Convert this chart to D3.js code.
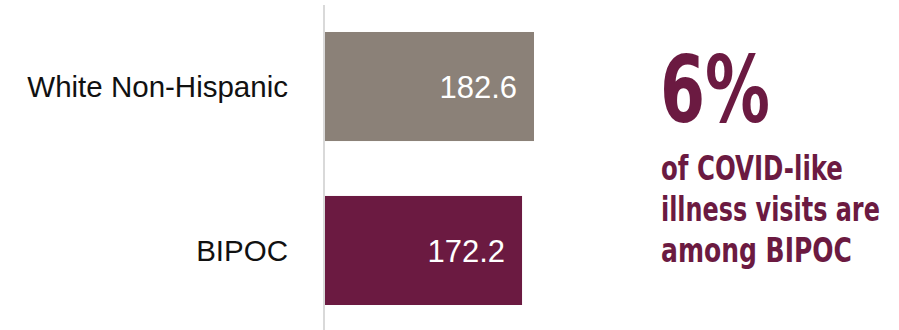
<!DOCTYPE html>
<html>
<head>
<meta charset="utf-8">
<script src="https://cdn.jsdelivr.net/npm/d3@7"></script>
<style>
  html, body { margin: 0; padding: 0; background: #fff; }
  svg { display: block; }
</style>
</head>
<body>
<svg id="chart" width="899" height="330"></svg>
<script>
// Rate per group
const categories = ["White Non-Hispanic", "BIPOC"];
const values = [182.6, 172.2];
const barColors = ["#8b8178", "#6b1a41"];
const calloutBig = "6%";
const calloutLines = ["of COVID-like", "illness visits are", "among BIPOC"];

const svg = d3.select("#chart");
const maroon = "#6b1a41";

const x = d3.scaleLinear().domain([0, 200]).range([324, 324 + 200 * (210 / 182.6)]);
const y = d3.scaleBand().domain(categories).range([4.5, 332.5]).paddingInner(0.335).paddingOuter(0.1677);

// Bars
svg.selectAll("rect.bar")
  .data(values)
  .join("rect")
  .attr("class", "bar")
  .attr("x", x(0))
  .attr("y", (d, i) => y(categories[i]))
  .attr("width", d => x(d) - x(0))
  .attr("height", y.bandwidth())
  .attr("fill", (d, i) => barColors[i]);

// Category axis (line only, labels drawn to the left)
const axis = d3.axisLeft(y).tickSize(0).tickPadding(36);
const g = svg.append("g").attr("transform", `translate(${x(0)},0)`).call(axis);
g.select(".domain").attr("stroke", "#d9d9d9").attr("stroke-width", 2).attr("d", "M0,5V330");
g.selectAll(".tick text")
  .attr("font-family", "'Liberation Sans', Arial, sans-serif")
  .attr("font-size", 29.5)
  .attr("fill", "#111")
  .attr("dy", "0.36em");

// Value labels inside bars
svg.selectAll("text.val")
  .data(values)
  .join("text")
  .attr("class", "val")
  .attr("x", d => x(d) - 17)
  .attr("y", (d, i) => y(categories[i]) + y.bandwidth() / 2)
  .attr("dy", "0.38em")
  .attr("text-anchor", "end")
  .attr("font-family", "'Liberation Sans', Arial, sans-serif")
  .attr("font-size", 31)
  .attr("fill", "#fff")
  .text(d => d.toFixed(1));

// Callout: condensed bold text, squeezed horizontally to the target width
const cf = "'Liberation Sans Narrow', 'DejaVu Sans Condensed', 'Arial Narrow', sans-serif";
function squeeze(sel, width) {
  sel.each(function (d, i) {
    const w = typeof width === "function" ? width(d, i) : width;
    const natural = this.getComputedTextLength();
    const sx = natural > 0 ? w / natural : 1;
    const tx = +this.getAttribute("data-x"), ty = +this.getAttribute("data-y");
    this.setAttribute("transform", `translate(${tx},${ty}) scale(${sx},1)`);
  });
}

svg.append("text")
  .attr("data-x", 660)
  .attr("data-y", 122)
  .attr("font-family", cf)
  .attr("font-weight", "bold")
  .attr("font-size", 92)
  .attr("fill", maroon)
  .text(calloutBig)
  .call(squeeze, 110);

const lineWidths = [182, 219, 191];
svg.selectAll("text.callout")
  .data(calloutLines)
  .join("text")
  .attr("class", "callout")
  .attr("data-x", 661)
  .attr("data-y", (d, i) => 180 + i * 41)
  .attr("font-family", cf)
  .attr("font-weight", "bold")
  .attr("font-size", 34)
  .attr("fill", maroon)
  .text(d => d)
  .call(squeeze, (d, i) => lineWidths[i]);
</script>
</body>
</html>
